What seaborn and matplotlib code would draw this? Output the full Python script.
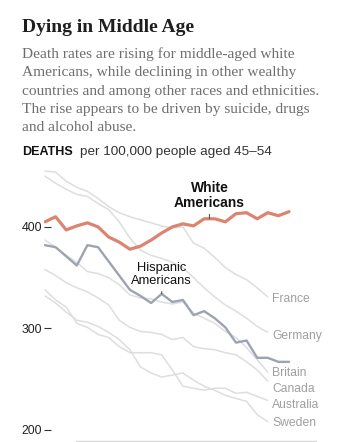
import matplotlib
matplotlib.use("Agg")
import matplotlib.pyplot as plt
from matplotlib.lines import Line2D
import pandas as pd
import seaborn as sns

# Deaths per 100,000 people aged 45-54
years_us = list(range(1990, 2014))
years_intl = list(range(1990, 2012))

white_americans = [405, 410, 397, 401, 404, 400, 390, 385, 378, 381, 387, 394,
                   400, 403, 401, 408, 408, 405, 413, 414, 408, 414, 411, 415]
hispanic_americans = [382, 380, 371, 362, 382, 380, 366, 352, 338, 332, 325, 334,
                      326, 328, 313, 317, 310, 301, 286, 288, 271, 271, 267, 267]

france = [455, 454, 445, 439, 435, 428, 420, 414, 410, 407, 404, 401,
          399, 400, 384, 379, 370, 360, 353, 348, 340, 331]
germany = [450, 443, 437, 432, 430, 423, 417, 405, 389, 377, 372, 369,
           365, 360, 350, 340, 331, 323, 317, 310, 302, 296]
britain = [387, 380, 372, 365, 356, 354, 350, 343, 333, 330, 329, 326,
           324, 326, 315, 310, 305, 297, 291, 281, 269, 257]
canada = [358, 352, 345, 340, 336, 330, 323, 308, 301, 297, 296, 294,
          289, 291, 282, 280, 279, 276, 274, 267, 259, 248]
australia = [338, 328, 321, 305, 301, 294, 291, 282, 276, 276, 276, 274,
             259, 243, 241, 239, 241, 241, 236, 237, 233, 229]
sweden = [332, 325, 316, 308, 306, 302, 296, 289, 279, 262, 256, 252,
          254, 256, 249, 243, 239, 234, 231, 228, 215, 208]

countries = ["France", "Germany", "Britain", "Canada", "Australia", "Sweden"]
country_rates = [france, germany, britain, canada, australia, sweden]
country_label_y = [329, 292, 256, 240, 224, 207]

ticks = [200, 300, 400]
tick_labels = ["200", "300", "400"]

white_color = "#dc8470"
hispanic_color = "#9ea3b4"
country_color = "#dedede"

intl = pd.DataFrame(
    [(c, y, v) for c, vals in zip(countries, country_rates)
     for y, v in zip(years_intl, vals)],
    columns=["group", "year", "rate"],
)
white_df = pd.DataFrame({"group": "White Americans", "year": years_us,
                         "rate": white_americans})
hisp_df = pd.DataFrame({"group": "Hispanic Americans", "year": years_us,
                        "rate": hispanic_americans})

sns.set_style("white")
plt.rcParams["font.family"] = ["Liberation Sans", "DejaVu Sans"]

W, H = 344, 442
fig = plt.figure(figsize=(W / 100, H / 100), dpi=100)
fig.patch.set_facecolor("white")

# Header
fig.text(22 / W, 1 - 32 / H, "Dying in Middle Age", family=["Liberation Serif"],
         weight="bold", fontsize=14.0, color="#1e1e1e", va="baseline")
body = [
    "Death rates are rising for middle-aged white",
    "Americans, while declining in other wealthy",
    "countries and among other races and ethnicities.",
    "The rise appears to be driven by suicide, drugs",
    "and alcohol abuse.",
]
for i, line in enumerate(body):
    fig.text(22 / W, 1 - (58 + 18.3 * i) / H, line, family=["Liberation Serif"],
             fontsize=11.1, color="#6e6e6e", va="baseline")
t = fig.text(22 / W, 1 - 155 / H, "DEATHS", weight="bold", fontsize=9.0,
             color="#111111", va="baseline")
fig.canvas.draw()
bb = t.get_window_extent()
fig.text((bb.x1 + 7) / W, 1 - 155 / H, "per 100,000 people aged 45\u201354",
         fontsize=9.7, color="#333333", va="baseline")

# Chart
ax = fig.add_axes([44 / W, 2 / H, 276 / W, 275 / H])
sns.lineplot(data=intl, x="year", y="rate", units="group", estimator=None,
             color=country_color, linewidth=1.1, ax=ax, legend=False)
sns.lineplot(data=hisp_df, x="year", y="rate", color=hispanic_color,
             linewidth=1.7, ax=ax, legend=False)
sns.lineplot(data=white_df, x="year", y="rate", color=white_color,
             linewidth=2.3, ax=ax, legend=False)

ax.set_xlim(1989.906, 2015.92)
ax.set_ylim(190, 461)
for s in ax.spines.values():
    s.set_visible(False)
ax.set_xticks([])
ax.set_yticks(ticks)
ax.set_yticklabels(tick_labels)
ax.tick_params(axis="y", direction="in", length=5, width=0.8, color="#333333",
               pad=1.5, labelsize=8.8, labelcolor="#222222", left=True)
ax.set_xlabel("")
ax.set_ylabel("")

# Series labels with short leaders
wi = years_us.index(2005)
ax.annotate("White\nAmericans",
            xy=(2005.5, (white_americans[wi] + white_americans[wi + 1]) / 2),
            xytext=(0, 6.5), textcoords="offset points", ha="center", va="bottom",
            fontsize=10, weight="bold", color="#111111", linespacing=1.05,
            arrowprops=dict(arrowstyle="-", color="#555555", lw=0.8,
                            shrinkA=1, shrinkB=0))
hi = years_us.index(2001)
ax.annotate("Hispanic\nAmericans", xy=(2001, hispanic_americans[hi]),
            xytext=(0, 5), textcoords="offset points", ha="center", va="bottom",
            fontsize=9.3, color="#111111", linespacing=1.05,
            arrowprops=dict(arrowstyle="-", color="#555555", lw=0.8,
                            shrinkA=1, shrinkB=0))

for name, ly in zip(countries, country_label_y):
    ax.text(2011.4, ly, name, fontsize=8.7, color="#a0a0a0", va="center",
            ha="left")

fig.add_artist(Line2D([76 / W, 316 / W], [1.5 / H, 1.5 / H], color="#d9d9d9",
                      lw=1.0))

fig.savefig("out.png", dpi=100, facecolor="white")
